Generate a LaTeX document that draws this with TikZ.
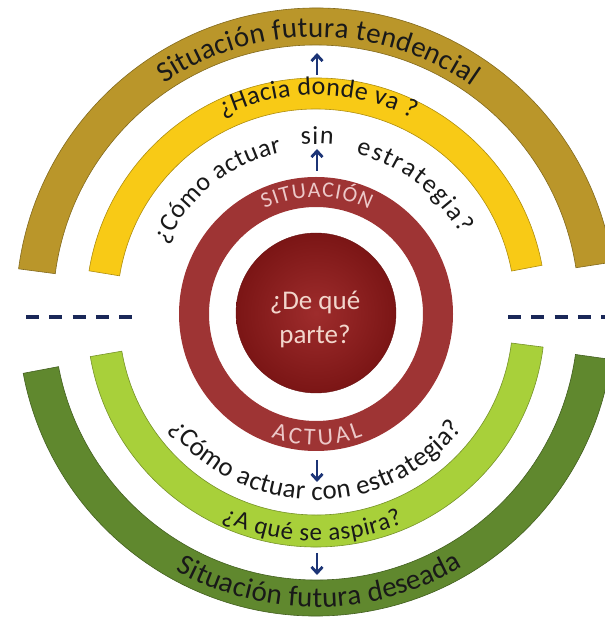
\documentclass[tikz,border=0pt]{standalone}
\usepackage{fontspec}
\setmainfont{Carlito}
\usepackage{xcolor}
\usepackage{tikz}
\usetikzlibrary{arrows.meta, decorations.text, positioning}

\definecolor{goldband}{RGB}{186,150,42}
\definecolor{yellowband}{RGB}{248,202,22}
\definecolor{ringred}{RGB}{158,52,52}
\definecolor{corered}{RGB}{150,26,26}
\definecolor{limeband}{RGB}{168,208,58}
\definecolor{leafband}{RGB}{96,136,46}
\definecolor{arrownavy}{RGB}{28,52,118}
\definecolor{dashnavy}{RGB}{26,40,88}
\definecolor{inkdark}{RGB}{25,25,25}
\definecolor{ringtext}{RGB}{236,200,200}
\definecolor{coretext}{RGB}{242,214,204}

\begin{document}
\begin{tikzpicture}[x=1pt, y=1pt, >={Straight Barb[length=6pt, width=11pt]},
		band/.style={fill=#1, draw=#1!70!black, line width=0.6pt},
		ring/.style={circle, draw=ringred, line width=30pt, minimum size=244pt, inner sep=0pt},
		core/.style={circle, minimum size=160pt, inner sep=0pt, inner color=corered!92!white, outer color=corered!82!black, draw=corered!70!black},
		coretxt/.style={align=center, text=coretext, font=\fontsize{27}{34}\selectfont},
		arctext/.style={decorate, decoration={text along path, text align={fit to path}, text color=inkdark, text={#1}}},
		arrow/.style={->, line width=2.8pt, arrownavy},
		divider/.style={line width=3.5pt, dashnavy, dash pattern=on 13pt off 10.3pt}
	]
	\useasboundingbox (0,0) rectangle (605,619);
	\clip (0,0) rectangle (605,619);

	% Upper bands
	\begin{scope}[shift={(316,311)}]
		\path[band=goldband] (8.8:300pt) arc[start angle=8.8, end angle=172.5, radius=300pt]
			-- (172.5:263pt) arc[start angle=172.5, end angle=8.8, radius=263pt] -- cycle;
		\path[band=yellowband] (10.7:230pt) arc[start angle=10.7, end angle=170.7, radius=230pt]
			-- (170.7:199pt) arc[start angle=170.7, end angle=10.7, radius=199pt] -- cycle;
		\path[arctext={|\fontsize{29}{29}\selectfont|Situación futura tendencial}]
			(124:271pt) arc[start angle=124, end angle=55, radius=271pt];
		\path[arctext={|\fontsize{26}{26}\selectfont|¿Hacia donde va ?}]
			(116:213pt) arc[start angle=116, end angle=63, radius=213pt];
	\end{scope}

	% Lower bands
	\begin{scope}[shift={(316,301)}]
		\path[band=leafband] (190.7:298pt) arc[start angle=190.7, end angle=352, radius=298pt]
			-- (352:262pt) arc[start angle=352, end angle=190.7, radius=262pt] -- cycle;
		\path[band=limeband] (189.7:229pt) arc[start angle=189.7, end angle=352.7, radius=229pt]
			-- (352.7:197pt) arc[start angle=352.7, end angle=189.7, radius=197pt] -- cycle;
		\path[arctext={|\fontsize{25}{25}\selectfont|¿A qué se aspira?}]
			(245:223pt) arc[start angle=245, end angle=293, radius=223pt];
		\path[arctext={|\fontsize{29}{29}\selectfont|Situación futura deseada}]
			(241:289pt) arc[start angle=241, end angle=300.5, radius=289pt];
	\end{scope}

	% Nodes
	\node[ring] (ring) at (316,305) {};
	\node[core] (core) at (316,306) {};
	\node[coretxt] (ask) at (315,299.5) {¿De qué\\parte?};

	% Ring and middle texts
	\begin{scope}[shift={(316,305)}]
		\path[arctext={|\fontsize{22}{22}\selectfont|SITUACIÓN}, decoration={text color=ringtext}]
			(116:117pt) arc[start angle=116, end angle=63, radius=117pt];
		\path[arctext={|\fontsize{24}{24}\selectfont|ACTUAL}, decoration={text color=ringtext}]
			(250:131pt) arc[start angle=250, end angle=291, radius=131pt];
		\path[arctext={|\fontsize{26}{26}\selectfont|¿Cómo actuar}]
			(155:165pt) arc[start angle=155, end angle=102, radius=165pt];
		\path[arctext={|\fontsize{26}{26}\selectfont|sin}]
			(95:170pt) arc[start angle=95, end angle=84.2, radius=170pt];
		\path[arctext={|\fontsize{26}{26}\selectfont|estrategia?}]
			(76:165pt) arc[start angle=76, end angle=29, radius=165pt];
		\path[arctext={|\fontsize{27}{27}\selectfont|¿Cómo actuar con estrategia?}]
			(218:186pt) arc[start angle=218, end angle=322, radius=186pt];
	\end{scope}

	% Arrows
	\coordinate (up1a) at (317,544);
	\coordinate (up1b) at (317,566);
	\coordinate (up2a) at (317,448);
	\coordinate (up2b) at (317,470);
	\coordinate (dn1a) at (317,159);
	\coordinate (dn1b) at (317,137);
	\coordinate (dn2a) at (317,66);
	\coordinate (dn2b) at (317,44);
	\draw[arrow] (up1a) -- (up1b);
	\draw[arrow] (up2a) -- (up2b);
	\draw[arrow] (dn1a) -- (dn1b);
	\draw[arrow] (dn2a) -- (dn2b);

	% Dividers
	\coordinate (left1) at (26,302);
	\coordinate (left2) at (132,302);
	\coordinate (right1) at (508,302);
	\coordinate (right2) at (620,302);
	\draw[divider] (left1) -- (left2);
	\draw[divider] (right1) -- (right2);
\end{tikzpicture}
\end{document}
